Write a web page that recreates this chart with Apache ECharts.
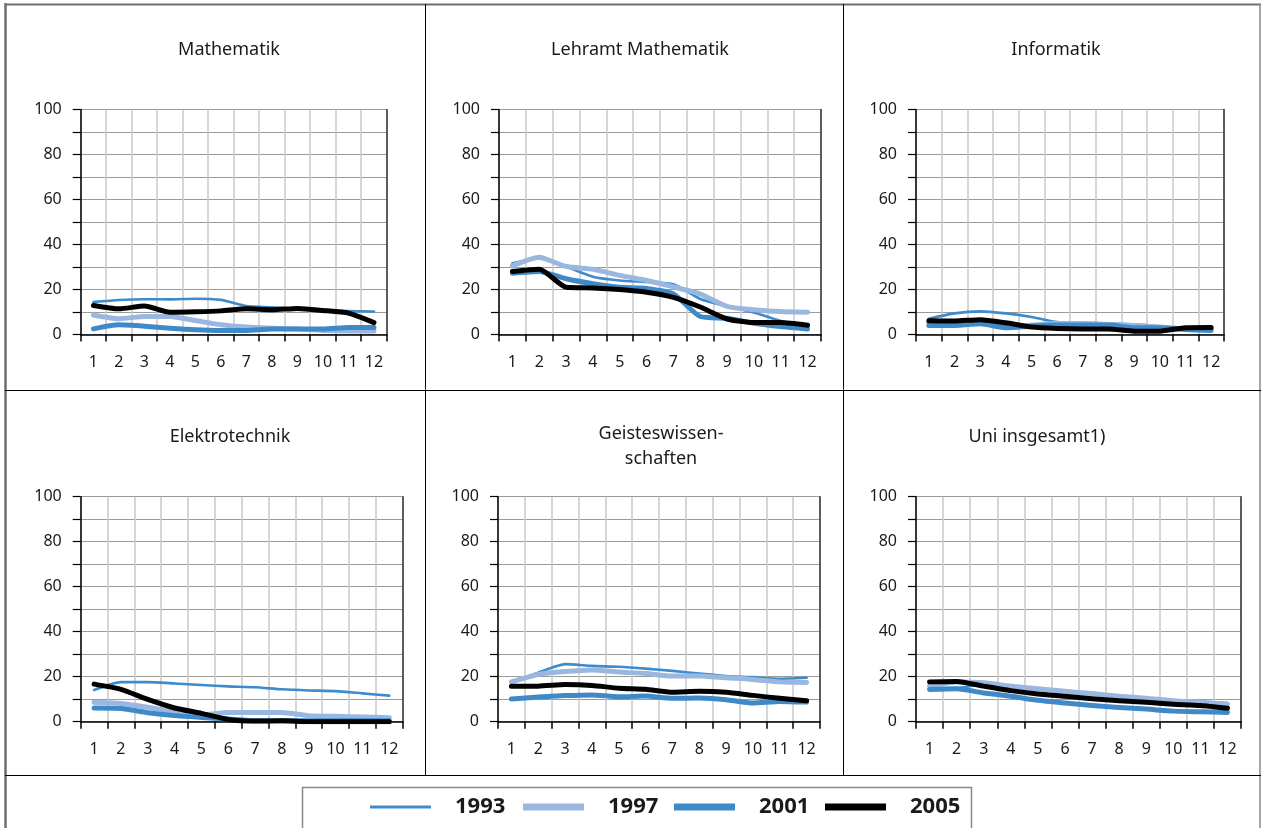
<!DOCTYPE html>
<html>
<head>
<meta charset="utf-8">
<script src="https://cdn.jsdelivr.net/npm/echarts@6/dist/echarts.min.js"></script>
<style>
html,body{margin:0;padding:0;background:#fff;}
#chart{width:1261px;height:828px;}
</style>
</head>
<body>
<div id="chart"></div>
<script>
// ---- data ----
const categories = ['1','2','3','4','5','6','7','8','9','10','11','12'];
const years = ['1993','1997','2001','2005'];
const panelTitles = ['Mathematik','Lehramt Mathematik','Informatik','Elektrotechnik','Geisteswissen-\nschaften','Uni insgesamt1)'];
const yTickLabels = [0,20,40,60,80,100];

const mathe1993 = [14.4,15.3,15.7,15.6,15.9,15.4,12.7,12.1,11.3,10.7,10.4,10.2];
const mathe1997 = [8.7,7.0,8.0,8.0,6.2,4.3,3.3,2.8,2.5,1.8,1.6,1.6];
const mathe2001 = [2.5,4.3,3.7,2.8,2.1,1.8,1.8,2.5,2.5,2.5,3.1,3.1];
const mathe2005 = [12.9,11.4,12.7,9.9,10.1,10.5,11.4,11.0,11.6,10.7,9.5,5.3];

const lehramt1993 = [31.7,33.8,30.2,25.7,24.0,23.3,22.3,15.8,12.5,9.8,6.0,3.5];
const lehramt1997 = [30.5,34.3,30.2,29.0,26.3,24.0,21.2,18.0,12.5,11.0,10.2,9.9];
const lehramt2001 = [27.2,28.0,24.8,22.6,21.0,20.5,18.0,8.0,7.2,5.0,3.5,2.4];
const lehramt2005 = [28.0,29.0,21.0,20.7,20.0,18.8,16.5,12.2,6.9,5.3,5.3,4.1];

const info1993 = [7.0,9.4,10.3,9.4,7.8,5.5,5.2,4.9,4.5,3.7,3.0,2.5];
const info1997 = [4.9,4.9,5.5,3.7,4.2,4.9,4.8,4.5,4.0,3.3,2.5,2.2];
const info2001 = [4.0,4.0,4.8,3.0,3.7,4.2,4.2,4.2,3.0,3.0,2.2,1.8];
const info2005 = [6.1,6.0,6.6,5.2,3.3,2.7,2.5,2.5,1.5,1.5,3.0,3.1];

const elektro1993 = [14.1,17.6,17.6,17.0,16.3,15.7,15.3,14.4,13.9,13.6,12.6,11.6];
const elektro1997 = [8.6,8.1,6.4,4.4,3.0,4.1,4.1,4.1,2.7,2.4,2.1,1.8];
const elektro2001 = [6.1,5.9,4.0,2.7,1.9,1.2,0.4,0.4,0.4,0.4,0.4,0.4];
const elektro2005 = [16.7,14.4,9.9,6.1,3.7,1.0,0.3,0.4,0.0,0.0,0.0,0.0];

const geistes1993 = [17.6,21.8,25.6,24.8,24.4,23.6,22.6,21.4,20.3,19.8,19.1,19.5];
const geistes1997 = [17.7,21.0,22.3,23.0,22.1,21.4,20.3,20.3,19.5,18.8,17.7,17.4];
const geistes2001 = [10.1,11.0,11.6,11.9,11.1,11.4,10.4,10.5,9.8,8.3,9.0,8.7];
const geistes2005 = [15.8,15.8,16.5,16.1,14.9,14.4,13.1,13.5,13.1,11.7,10.4,9.3];

const uni1993 = [15.0,15.0,16.8,15.5,14.3,13.2,12.3,11.3,10.4,9.5,8.9,8.3];
const uni1997 = [15.8,17.6,17.3,15.8,14.6,13.5,12.5,11.3,10.4,9.3,8.6,7.8];
const uni2001 = [14.3,14.6,12.8,11.3,9.5,8.3,7.2,6.3,5.6,4.7,4.4,4.1];
const uni2005 = [17.7,17.9,15.8,13.8,12.3,11.3,10.2,9.3,8.6,7.8,7.2,6.0];

const panelData = [
  [mathe1993, mathe1997, mathe2001, mathe2005],
  [lehramt1993, lehramt1997, lehramt2001, lehramt2005],
  [info1993, info1997, info2001, info2005],
  [elektro1993, elektro1997, elektro2001, elektro2005],
  [geistes1993, geistes1997, geistes2001, geistes2005],
  [uni1993, uni1997, uni2001, uni2005]
];

// ---- styles / layout ----
const FONT = 'Noto Sans';
const TXT = '#1a1a1a';
const yearColors = ['#3d8bcd','#9ab7e0','#3f89c8','#000000'];
const yearWidths = [2.6,5,5,5];
const legendHeights = [3,7,7,7];
const legendLefts = [370,523,674,825];

const grids = [
  {left:80.7, top:109.5, width:306, height:225},
  {left:499, top:109.5, width:322, height:225},
  {left:916, top:109.5, width:308, height:225},
  {left:80.7, top:496.7, width:322, height:225},
  {left:498, top:496.7, width:322, height:225},
  {left:916, top:496.7, width:325, height:225}
];
const titlePos = [
  {x:229, y:37}, {x:640, y:37}, {x:1056, y:37},
  {x:230, y:424}, {x:661, y:421}, {x:1037, y:424}
];

const xAxes = grids.map((g,i)=>({
  type:'category', gridIndex:i, data:categories, boundaryGap:true,
  axisLine:{show:true, lineStyle:{color:'#000', width:1.5}},
  axisTick:{show:true, interval:0, length:7, lineStyle:{color:'#000', width:1.5}},
  axisLabel:{interval:0, margin:20, fontSize:16, color:TXT, fontFamily:FONT},
  splitLine:{show:true, interval:0, lineStyle:{color:'#c8c8c8', width:1.5}}
}));
const yAxesLeft = grids.map((g,i)=>({
  type:'value', gridIndex:i, min:0, max:100, interval:10, position:'left',
  axisLine:{show:true, lineStyle:{color:'#000', width:1.5}},
  axisTick:{show:true, length:8, lineStyle:{color:'#000', width:1.2}},
  axisLabel:{margin:19, fontSize:16, color:TXT, fontFamily:FONT,
    formatter:v=> yTickLabels.indexOf(v) >= 0 ? String(v) : ''},
  splitLine:{show:true, lineStyle:{color:'#9a9a9a', width:1}}
}));
const yAxesRight = grids.map((g,i)=>({
  type:'value', gridIndex:i, min:0, max:100, interval:10, position:'right',
  axisLine:{show:true, lineStyle:{color:'#333', width:1.5}},
  axisTick:{show:false}, axisLabel:{show:false}, splitLine:{show:false}
}));

const series = [];
panelData.forEach((arrs,i)=>{
  arrs.forEach((vals,j)=>{
    series.push({
      type:'line', name:years[j], xAxisIndex:i, yAxisIndex:i,
      data:vals, symbol:'none', smooth:0.2, silent:true, z:2+j,
      color:yearColors[j],
      itemStyle:{color:yearColors[j]},
      lineStyle:{color:yearColors[j], width:yearWidths[j], cap:'round', join:'round'}
    });
  });
});

const titles = panelTitles.map((t,i)=>({
  text:t, left:titlePos[i].x, top:titlePos[i].y, textAlign:'center', padding:0,
  textStyle:{fontFamily:FONT, fontSize:18, fontWeight:'normal', color:TXT, lineHeight:25}
}));

const legends = years.map((y,j)=>({
  data:[{name:y, icon:'rect'}], left:legendLefts[j], top:796,
  itemWidth:61, itemHeight:legendHeights[j], selectedMode:false, padding:0,
  textStyle:{fontFamily:FONT, fontSize:22, fontWeight:'bold', color:TXT, padding:[0,0,0,19]}
}));

function ln(x1,y1,x2,y2,color,w){
  return {type:'line', silent:true, shape:{x1,y1,x2,y2}, style:{stroke:color, lineWidth:w}};
}
const frame = [
  ln(5.5,3,5.5,828,'#6e6e6e',2.5),
  ln(5,4.5,1261,4.5,'#6e6e6e',2),
  ln(1260,4,1260,828,'#8a8a8a',1.5),
  ln(5,390.5,1261,390.5,'#000',1),
  ln(425.5,4,425.5,775,'#000',1),
  ln(843.5,4,843.5,775,'#000',1),
  ln(5,775.5,1261,775.5,'#000',1),
  {type:'rect', silent:true, shape:{x:302.5, y:787.5, width:669, height:60}, style:{fill:'none', stroke:'#888', lineWidth:1.5}}
];

const chart = echarts.init(document.getElementById('chart'), null, {renderer:'canvas'});
chart.setOption({
  animation:false,
  backgroundColor:'#fff',
  title:titles,
  legend:legends,
  grid:grids,
  xAxis:xAxes,
  yAxis:yAxesLeft.concat(yAxesRight),
  series:series,
  graphic:frame
});
</script>
</body>
</html>
